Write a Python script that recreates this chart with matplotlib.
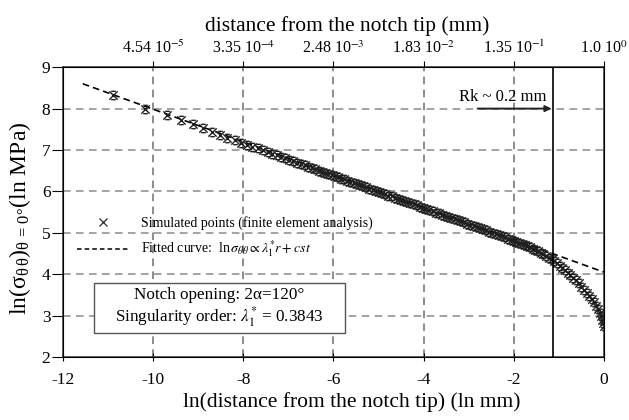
import matplotlib
matplotlib.use("Agg")
import matplotlib.pyplot as plt
from matplotlib.lines import Line2D
from matplotlib.patches import Rectangle
from matplotlib.path import Path

plt.rcParams["font.family"] = ["Liberation Serif", "DejaVu Serif"]
plt.rcParams["mathtext.fontset"] = "stix"
plt.rcParams["axes.unicode_minus"] = False

# ---- data ----
sim_x = [-10.89, -10.17, -9.69, -9.37, -9.12, -8.90, -8.70, -8.52, -8.35,
         -8.19, -8.05, -7.92, -7.80, -7.68, -7.57, -7.46, -7.36, -7.26,
         -7.16, -7.07, -6.98, -6.89, -6.80, -6.72, -6.64, -6.56, -6.48,
         -6.40, -6.32, -6.25, -6.18, -6.11, -6.04, -5.97, -5.90, -5.83,
         -5.76, -5.69, -5.62, -5.55, -5.48, -5.41, -5.34, -5.27, -5.20,
         -5.13, -5.06, -4.99, -4.92, -4.85, -4.78, -4.71, -4.64, -4.57,
         -4.50, -4.43, -4.36, -4.29, -4.22, -4.15, -4.08, -4.01, -3.94,
         -3.87, -3.80, -3.73, -3.66, -3.59, -3.52, -3.45, -3.38, -3.31,
         -3.24, -3.17, -3.10, -3.03, -2.96, -2.89, -2.82, -2.75, -2.68,
         -2.61, -2.54, -2.47, -2.40, -2.33, -2.26, -2.19, -2.12, -2.06,
         -2.00, -1.94, -1.88, -1.82, -1.76, -1.70, -1.64, -1.58, -1.52,
         -1.46, -1.40, -1.34, -1.28, -1.22, -1.16, -1.10, -1.04, -0.98,
         -0.92, -0.86, -0.80, -0.74, -0.68, -0.62, -0.56, -0.50, -0.44,
         -0.38, -0.32, -0.27, -0.22, -0.17, -0.13, -0.09, -0.06, -0.03,
         -0.01, 0.0]
sim_y = [8.33, 7.99, 7.84, 7.72, 7.63, 7.53, 7.44, 7.37, 7.30,
         7.24, 7.18, 7.13, 7.08, 7.04, 6.99, 6.95, 6.91, 6.87,
         6.83, 6.80, 6.76, 6.73, 6.69, 6.66, 6.63, 6.60, 6.57,
         6.54, 6.50, 6.48, 6.45, 6.42, 6.40, 6.37, 6.34, 6.31,
         6.29, 6.26, 6.23, 6.20, 6.18, 6.15, 6.12, 6.10, 6.07,
         6.04, 6.01, 5.99, 5.96, 5.93, 5.90, 5.88, 5.85, 5.82,
         5.80, 5.77, 5.74, 5.71, 5.69, 5.66, 5.63, 5.60, 5.58,
         5.55, 5.52, 5.49, 5.47, 5.44, 5.41, 5.39, 5.36, 5.33,
         5.30, 5.28, 5.25, 5.22, 5.19, 5.17, 5.14, 5.11, 5.08,
         5.06, 5.03, 5.00, 4.97, 4.94, 4.92, 4.89, 4.86, 4.83,
         4.81, 4.78, 4.76, 4.73, 4.71, 4.68, 4.65, 4.62, 4.59,
         4.56, 4.52, 4.48, 4.45, 4.40, 4.36, 4.31, 4.26, 4.21,
         4.16, 4.10, 4.04, 3.98, 3.91, 3.85, 3.78, 3.70, 3.62,
         3.55, 3.47, 3.40, 3.32, 3.23, 3.15, 3.06, 2.98, 2.89,
         2.82, 2.76]

fit_x = [-11.56, 0.0]
fit_y = [8.60, 4.05]

rk_x = -1.13
rk_arrow_from = -2.80

bottom_ticks = [-12, -10, -8, -6, -4, -2, 0]
top_ticks = [-10, -8, -6, -4, -2, 0]
top_labels = ["4.54 10$^{-5}$", "3.35 10$^{-4}$", "2.48 10$^{-3}$",
              "1.83 10$^{-2}$", "1.35 10$^{-1}$", "1.0 10$^{0}$"]
y_ticks = [2, 3, 4, 5, 6, 7, 8, 9]

# star-like marker: a cross closed by two short bars
star = Path([(-1, -1), (1, 1), (-1, 1), (1, -1),
             (-0.55, 1), (0.55, 1), (-0.55, -1), (0.55, -1)],
            [Path.MOVETO, Path.LINETO, Path.MOVETO, Path.LINETO,
             Path.MOVETO, Path.LINETO, Path.MOVETO, Path.LINETO])

fig = plt.figure(figsize=(6.29, 4.2), dpi=100)
ax = fig.add_axes([0.100, 0.150, 0.860, 0.690])

for gx in top_ticks[:-1]:
    ax.axvline(gx, color="#6e6e6e", lw=1.1, dashes=(5, 3.5), zorder=1)
for gy in y_ticks[1:-1]:
    ax.axhline(gy, color="#8a8a8a", lw=1.1, dashes=(5, 3.5), zorder=1)

ax.plot(fit_x, fit_y, color="black", lw=1.2, dashes=(4, 2.5), zorder=3)
ax.plot(sim_x, sim_y, ls="none", marker=star, ms=6, mew=1.0,
        color="#1e1e1e", mfc="none", zorder=4)

ax.axvline(rk_x, color="black", lw=1.2, zorder=5)
ax.annotate("", xy=(rk_x, 8.0), xytext=(rk_arrow_from, 8.0),
            arrowprops=dict(arrowstyle="-|>", color="#222222", lw=1.4,
                            mutation_scale=9, shrinkA=0, shrinkB=1),
            zorder=6)
ax.text(-2.24, 8.28, "Rk ~ 0.2 mm", ha="center", va="center", fontsize=12)

handles = [Line2D([], [], ls="none", marker="x", ms=5.5, mew=0.9, color="#2a2a2a"),
           Line2D([], [], color="black", lw=1.1, dashes=(3, 2))]
labels = ["Simulated points (finite element analysis)",
          r"Fitted curve:  ln$\,\sigma_{\theta\theta} \propto \lambda_1^{*}r + cst$"]
ax.legend(handles, labels, loc="upper left", bbox_to_anchor=(0.026, 0.487),
          frameon=False, fontsize=10, handlelength=3.8, handletextpad=0.8,
          labelspacing=0.65, borderpad=0, borderaxespad=0)

# annotation box
ax.add_patch(Rectangle((0.057, 0.083), 0.464, 0.172, transform=ax.transAxes,
                       fc="white", ec="#555555", lw=1, zorder=7))
ax.text(0.289, 0.169,
        "Notch opening: 2\u03b1=120\u00b0\n"
        r"Singularity order: $\lambda_1^{*}$ = 0.3843",
        transform=ax.transAxes, ha="center", va="center", fontsize=12.3,
        linespacing=1.05, zorder=8)

ax.set_xlim(-12, 0)
ax.set_ylim(2, 9)
ax.set_xticks(bottom_ticks)
ax.set_yticks(y_ticks)
ax.tick_params(axis="x", direction="inout", length=6, labelsize=12.5, pad=8)
ax.tick_params(axis="y", direction="out", length=8, labelsize=12.5, pad=1)
for s in ax.spines.values():
    s.set_color("#333333")
    s.set_linewidth(1.1)

ax.set_xlabel("ln(distance from the notch tip) (ln mm)", fontsize=15.5)
ax.xaxis.set_label_coords(0.534, -0.12)
ax.set_ylabel(r"ln($\mathregular{\sigma_{\theta\,\theta}}$)"
              r"$_{\mathregular{\theta\,=\,0\degree}}$(ln MPa)", fontsize=17)
ax.yaxis.set_label_coords(-0.055, 0.48)

top = ax.twiny()
top.set_xlim(-12, 0)
top.set_xticks(top_ticks)
top.set_xticklabels(top_labels)
top.tick_params(axis="x", direction="out", length=4, labelsize=11.5, pad=3)
top.set_xlabel("distance from the notch tip (mm)", fontsize=15.5)
top.xaxis.set_label_coords(0.525, 1.125)

fig.savefig("out.png", dpi=100)
